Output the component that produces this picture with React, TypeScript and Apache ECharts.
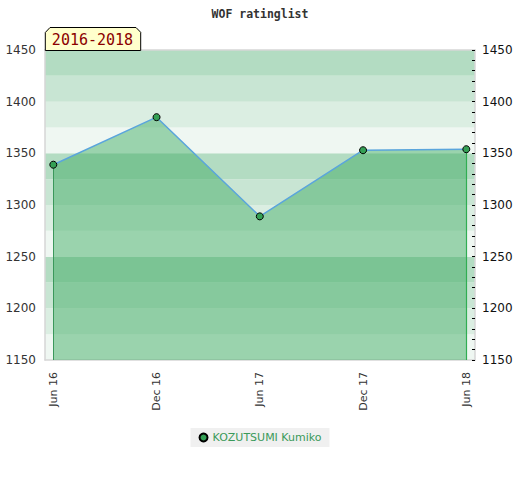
import React, { useEffect, useRef } from "react";
import * as echarts from "echarts";

const categories = ["Jun 16", "Dec 16", "Jun 17", "Dec 17", "Jun 18"];
const ratings = [1339, 1385, 1289, 1353, 1354];
const seriesName = "KOZUTSUMI Kumiko";
const periodLabel = "2016-2018";
const titleText = "WOF ratinglist";
const yMin = 1150;
const yMax = 1450;

export default function App() {
  const ref = useRef<HTMLDivElement>(null);
  useEffect(() => {
    document.body.style.margin = "0";
    const chart = echarts.init(ref.current!, undefined, { renderer: "svg" });
    const borderColor = "#d6d6d6";
    const last = categories.length - 1;
    const borderLine = { show: true, onZero: false, lineStyle: { color: borderColor, width: 1.5 } };
    chart.setOption({
      animation: false,
      title: {
        text: titleText,
        left: "center",
        top: 3,
        textStyle: {
          fontFamily: "DejaVu Sans Mono",
          fontWeight: "bold",
          fontSize: 11.5,
          color: "#333",
        },
      },
      legend: {
        bottom: 33,
        left: "center",
        backgroundColor: "#f0f0f0",
        padding: [4, 8, 4, 8],
        itemWidth: 8,
        itemHeight: 8,
        itemGap: 10,
        icon: "circle",
        textStyle: { color: "#3a9a5a", fontSize: 11, fontFamily: "DejaVu Sans" },
        data: [seriesName],
      },
      grid: [
        { left: 45, width: 430, top: 50, height: 310 },
        { left: 53.3, width: 413, top: 50, height: 310 },
      ],
      xAxis: [
        {
          type: "value",
          gridIndex: 0,
          min: 0,
          max: 1,
          position: "bottom",
          axisLine: borderLine,
          axisTick: { show: false },
          axisLabel: { show: false },
          splitLine: { show: false },
        },
        {
          type: "value",
          gridIndex: 0,
          min: 0,
          max: 1,
          position: "top",
          axisLine: borderLine,
          axisTick: { show: false },
          axisLabel: { show: false },
          splitLine: { show: false },
        },
        {
          type: "category",
          gridIndex: 1,
          data: categories,
          boundaryGap: false,
          axisLine: { show: false, onZero: false },
          axisTick: { show: false },
          splitLine: { show: false },
          axisLabel: {
            rotate: 90,
            margin: 12,
            fontSize: 11,
            color: "#333",
            fontFamily: "DejaVu Sans",
          },
        },
      ],
      yAxis: [
        {
          type: "value",
          gridIndex: 0,
          min: yMin,
          max: yMax,
          interval: 25,
          position: "left",
          z: 0,
          axisLine: borderLine,
          axisTick: { show: false },
          minorTick: { show: false },
          splitLine: { show: false },
          splitArea: {
            show: true,
            areaStyle: { color: ["#eff7f2", "#dbeee2", "#c8e5d3", "#b3dcc2"] },
          },
          axisLabel: {
            margin: 9,
            fontSize: 12,
            color: "#333",
            fontFamily: "DejaVu Sans",
            formatter: (v: number) => (v % 50 === 0 ? String(v) : ""),
          },
        },
        {
          type: "value",
          gridIndex: 0,
          min: yMin,
          max: yMax,
          interval: 50,
          position: "right",
          z: 10,
          axisLine: borderLine,
          axisTick: { show: true, inside: true, length: 3, lineStyle: { color: "#000" } },
          minorTick: { show: true, splitNumber: 5, length: 3, lineStyle: { color: "#000" } },
          splitLine: { show: false },
          axisLabel: {
            margin: 7,
            fontSize: 12,
            color: "#111",
            fontFamily: "DejaVu Sans",
            formatter: (v: number) => String(v),
          },
        },
        {
          type: "value",
          gridIndex: 1,
          min: yMin,
          max: yMax,
          show: false,
        },
      ],
      series: [
        {
          name: seriesName,
          type: "line",
          xAxisIndex: 2,
          yAxisIndex: 2,
          data: ratings,
          symbol: "circle",
          symbolSize: 7,
          itemStyle: { color: "#34a055", borderColor: "#000", borderWidth: 1 },
          lineStyle: { color: "#5aa5dc", width: 1.5 },
          areaStyle: { color: "rgba(60,169,96,0.47)", opacity: 1, origin: "start" },
          z: 5,
          markLine: {
            silent: true,
            symbol: "none",
            label: { show: false },
            data: [
              [
                { coord: [categories[0], ratings[0]], lineStyle: { color: "#3d8f5a", width: 1, type: "solid" } },
                { coord: [categories[0], yMin] },
              ],
              [
                { coord: [categories[last], ratings[last]], lineStyle: { color: "#2fb050", width: 1.2, type: "solid" } },
                { coord: [categories[last], yMin] },
              ],
            ],
          },
        },
      ],
      graphic: [
        {
          type: "polygon",
          z: 100,
          shape: {
            points: [
              [45.3, 50.5],
              [45.3, 32.5],
              [50, 27.5],
              [136, 27.5],
              [140.7, 32.3],
              [140.7, 50.5],
            ],
          },
          style: { fill: "#ffffcc", stroke: "#000", lineWidth: 1 },
        },
        {
          type: "text",
          z: 101,
          x: 92.5,
          y: 39.5,
          style: {
            text: periodLabel,
            fill: "#8b0000",
            font: "15px 'DejaVu Sans Mono'",
            align: "center",
            verticalAlign: "middle",
          },
        },
      ],
    });
    return () => chart.dispose();
  }, []);
  return <div ref={ref} style={{ width: 520, height: 480 }} />;
}
